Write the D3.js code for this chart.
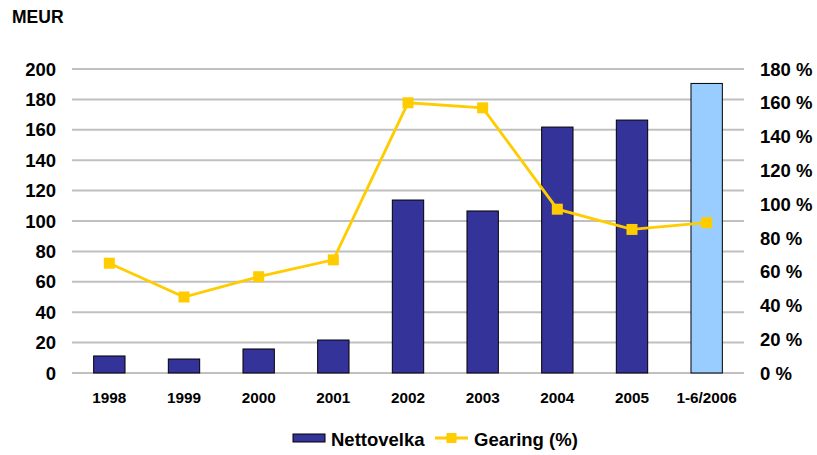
<!DOCTYPE html>
<html>
<head>
<meta charset="utf-8">
<script src="https://cdn.jsdelivr.net/npm/d3@7/dist/d3.min.js"></script>
<style>
  body { margin: 0; background: #fff; }
  text { font-family: "Liberation Sans", Arial, sans-serif; font-weight: bold; fill: #000; }
</style>
</head>
<body>
<div id="chart"></div>
<script>
// chart data
const years = ["1998", "1999", "2000", "2001", "2002", "2003", "2004", "2005", "1-6/2006"];
const nettovelka = [11.2, 9.2, 15.8, 21.7, 113.8, 106.6, 161.8, 166.4, 190.5];
const gearing = [65, 45, 57, 67, 160, 157, 97, 85, 89];
const leftTicks = [0, 20, 40, 60, 80, 100, 120, 140, 160, 180, 200];
const rightTicks = [0, 20, 40, 60, 80, 100, 120, 140, 160, 180];

const width = 817, height = 455;
const margin = {top: 69, right: 73, bottom: 82, left: 72};
const plot_w = width - margin.left - margin.right;
const plot_h = height - margin.top - margin.bottom;

let svg = d3.select("#chart")
    .append("svg")
    .attr("width", width)
    .attr("height", height);

let g = svg.append("g")
    .attr("transform", `translate(${margin.left}, ${margin.top})`);

let x = d3.scaleBand()
    .domain(years)
    .range([0, plot_w])
    .paddingInner(0.58)
    .paddingOuter(0.29);

let y = d3.scaleLinear().domain([0, 200]).range([plot_h, 0]);
let y2 = d3.scaleLinear().domain([0, 180]).range([plot_h, 0]);

// gridlines
g.selectAll(".grid")
    .data(leftTicks)
    .enter()
    .append("line")
    .attr("x1", 0)
    .attr("x2", plot_w)
    .attr("y1", d => y(d))
    .attr("y2", d => y(d))
    .attr("stroke", "#c0c0c0")
    .attr("stroke-width", 2);

// left axis labels
g.selectAll(".ltick")
    .data(leftTicks)
    .enter()
    .append("text")
    .attr("x", -16)
    .attr("y", d => y(d))
    .attr("dy", "0.36em")
    .style("text-anchor", "end")
    .style("font-size", "18.5px")
    .text(d => d);

// right axis labels
g.selectAll(".rtick")
    .data(rightTicks)
    .enter()
    .append("text")
    .attr("x", plot_w + 16)
    .attr("y", d => y2(d))
    .attr("dy", "0.36em")
    .style("text-anchor", "start")
    .style("font-size", "18.5px")
    .text(d => d + " %");

// x labels
g.selectAll(".xlab")
    .data(years)
    .enter()
    .append("text")
    .attr("x", d => x(d) + x.bandwidth() / 2)
    .attr("y", plot_h + 30)
    .style("text-anchor", "middle")
    .style("font-size", "15.3px")
    .text(d => d);

// bars
g.selectAll(".bar")
    .data(nettovelka)
    .enter()
    .append("rect")
    .attr("x", (d, i) => x(years[i]))
    .attr("y", d => y(d))
    .attr("width", x.bandwidth())
    .attr("height", d => plot_h - y(d))
    .attr("fill", (d, i) => i == years.length - 1 ? "#99ccff" : "#333399")
    .attr("stroke", "#000")
    .attr("stroke-width", 1);

// gearing line
let line = d3.line()
    .x((d, i) => x(years[i]) + x.bandwidth() / 2)
    .y(d => y2(d));

g.append("path")
    .datum(gearing)
    .attr("d", line)
    .attr("fill", "none")
    .attr("stroke", "#ffcc00")
    .attr("stroke-width", 2.8);

g.selectAll(".marker")
    .data(gearing)
    .enter()
    .append("rect")
    .attr("x", (d, i) => x(years[i]) + x.bandwidth() / 2 - 5.5)
    .attr("y", d => y2(d) - 5.5)
    .attr("width", 11)
    .attr("height", 11)
    .attr("fill", "#ffcc00");

// MEUR label
svg.append("text")
    .attr("x", 12)
    .attr("y", 23)
    .style("font-size", "17.5px")
    .text("MEUR");

// legend
const legend = svg.append("g").attr("transform", "translate(293, 438)");

legend.append("rect")
    .attr("x", 0).attr("y", -4)
    .attr("width", 32).attr("height", 8)
    .attr("fill", "#333399")
    .attr("stroke", "#000")
    .attr("stroke-width", 1);

legend.append("text")
    .attr("x", 38).attr("y", 1)
    .attr("dy", "0.36em")
    .style("font-size", "18.5px")
    .text("Nettovelka");

legend.append("line")
    .attr("x1", 142).attr("x2", 175)
    .attr("y1", 0).attr("y2", 0)
    .attr("stroke", "#ffcc00")
    .attr("stroke-width", 2.8);

legend.append("rect")
    .attr("x", 153.5).attr("y", -5)
    .attr("width", 10).attr("height", 10)
    .attr("fill", "#ffcc00");

legend.append("text")
    .attr("x", 181).attr("y", 1)
    .attr("dy", "0.36em")
    .style("font-size", "18.5px")
    .text("Gearing (%)");
</script>
</body>
</html>
